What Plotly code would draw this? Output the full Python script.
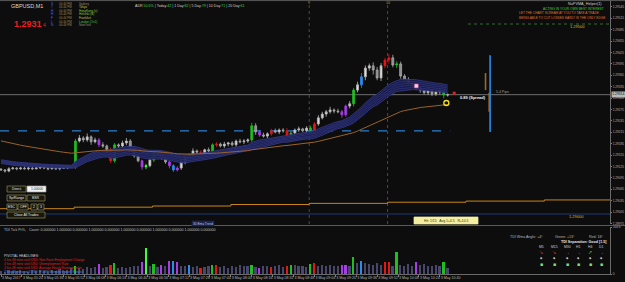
import plotly.graph_objects as go

W, H = 625, 282
BASE = 1.29000
PT = 0.00001
BAR_MIN = 3  # minutes per drawn bar, first bar opens 05:04

# ---------------- data (points of 0.00001 above 1.29000) ----------------
close_pts = [116, 113, 119, 121, 119, 121, 119, 121, 119, 121,
             124, 121, 119, 121, 119, 121, 121, 124, 124, 192,
             200, 195, 203, 190, 195, 182, 179, 169, 140, 182,
             179, 187, 192, 174, 153, 140, 124, 127, 142, 161,
             158, 148, 137, 127, 116, 121, 137, 150, 155, 166,
             163, 161, 169, 166, 182, 184, 179, 184, 187, 182,
             192, 190, 192, 195, 232, 216, 208, 205, 211, 219,
             216, 221, 219, 203, 213, 221, 224, 219, 226, 213,
             237, 253, 263, 269, 274, 271, 269, 261, 284, 290,
             326, 340, 361, 384, 390, 379, 358, 390, 405, 411,
             392, 395, 363, 353, 345, 342, 332, 326, 319, 324,
             316, 321, 326, 313, 314]
open_first_pts = 118
hi_wick = [3, 2, 4, 3, 2, 3, 4, 2, 3, 3,
           2, 4, 3, 2, 3, 2, 3, 4, 3, 6,
           8, 5, 9, 4, 6, 5, 7, 4, 6, 5,
           4, 6, 8, 5, 4, 6, 3, 5, 7, 4,
           5, 4, 6, 3, 4, 5, 6, 4, 5, 7,
           4, 5, 3, 6, 4, 5, 4, 6, 3, 5,
           4, 6, 5, 4, 8, 7, 5, 6, 4, 5,
           6, 4, 5, 7, 5, 4, 6, 3, 5, 6,
           5, 7, 6, 5, 8, 4, 6, 5, 4, 7,
           6, 8, 10, 7, 6, 9, 8, 7, 6, 10,
           8, 7, 6, 5, 7, 6, 8, 5, 6, 12,
           5, 7, 9, 4, 3]
lo_wick = [2, 4, 3, 2, 4, 3, 2, 4, 3, 2,
           3, 3, 4, 2, 3, 4, 2, 3, 2, 5,
           4, 6, 5, 8, 4, 6, 5, 9, 6, 5,
           5, 4, 6, 7, 5, 4, 8, 6, 4, 5,
           4, 6, 5, 7, 5, 4, 5, 6, 4, 5,
           6, 4, 5, 4, 6, 5, 4, 5, 6, 4,
           5, 4, 6, 5, 6, 8, 5, 4, 6, 5,
           4, 6, 5, 8, 4, 6, 5, 4, 6, 5,
           6, 5, 4, 7, 5, 6, 4, 8, 5, 6,
           7, 6, 8, 9, 7, 12, 6, 8, 7, 9,
           6, 8, 7, 6, 5, 8, 6, 7, 5, 6,
           6, 5, 7, 9, 4]
volume = [12, 8, 15, 10, 9, 14, 11, 8, 13, 10,
          16, 9, 12, 14, 10, 18, 12, 15, 20, 30,
          22, 18, 25, 20, 26, 36, 20, 24, 34, 40,
          22, 26, 20, 25, 28, 30, 44, 92, 30, 36,
          26, 33, 28, 48, 46, 44, 30, 28, 33, 26,
          30, 22, 25, 28, 33, 33, 24, 28, 22, 30,
          26, 32, 28, 30, 33, 26, 22, 28, 30, 24,
          28, 32, 26, 30, 33, 34, 28, 30, 26, 37,
          40, 30, 34, 28, 32, 30, 28, 33, 33, 30,
          60, 38, 48, 40, 36, 32, 38, 34, 44, 42,
          30, 80, 34, 30, 36, 28, 44, 32, 36, 30,
          28, 34, 30, 44, 20]
flag_idx = [19, 25, 28, 29, 36, 37, 39, 41, 43, 44, 45, 48, 51, 54, 55, 64,
            66, 69, 73, 74, 79, 80, 87, 88, 90, 92, 98, 99, 101, 106, 113]
flag_kind = ["green", "purple", "red", "green", "purple", "lime", "green", "purple",
             "purple", "blue", "purple", "blue", "red", "green", "red", "green",
             "purple", "red", "red", "green", "green", "red", "purple", "purple",
             "green", "blue", "red", "red", "green", "purple", "green"]

time_labels = ["3 May 2017", "3 May 05:20", "3 May 05:36", "3 May 05:52", "3 May 06:08",
               "3 May 06:24", "3 May 06:40", "3 May 06:56", "3 May 07:12", "3 May 07:28",
               "3 May 07:44", "3 May 08:00", "3 May 08:16", "3 May 08:32", "3 May 08:48",
               "3 May 09:04", "3 May 09:20", "3 May 09:36", "3 May 09:52", "3 May 10:08",
               "3 May 10:24", "3 May 10:40"]
time_label_min = [16 * k for k in range(len(time_labels))]

ribbon_seed_pts = 140
atr_seed_pts = 10
brown_seed_pts = 195
dashed_level = 1.29219
round_hi = 1.29500
round_lo = 1.29000
htf_t = [-10, 56, 116, 176, 236, 296, 356, 416, 476]
htf_pts = [14, 18, 21, 25, 28, 31, 34, 37, 37]
hour_t = [236, 296]
hour_txt = ["9", "10"]
seg_t = [374.5, 371, 373.8]
seg_top_pts = [418, 371, 319]
seg_bot_pts = [216, 326, 269]
seg_kind = ["blue", "brown", "brown"]
sig_t = [318, 341, 347]
sig_pts = [337, 292, 318]
sig_kind = ["white", "yellow", "red"]
vol_max = 168.8

# ---------------- styles ----------------
FONT = "Liberation Sans"
BG = "#0d0d0d"
KIND_COL = {"green": "#1fbf1f", "lime": "#3cff3c", "red": "#e01818",
            "purple": "#a63ee6", "blue": "#2a8cf0", "brown": "#9a6a2a"}
VOL_GRAY = "#48466a"
PX_PER_MIN = 1.306
RIGHT_PX = 610
X0_MIN = -1 / PX_PER_MIN
X1_MIN = (RIGHT_PX - 1) / PX_PER_MIN
Y_TOP = round_hi + 24 / 38000
Y_BOT = round_hi - 200 / 38000

# ---------------- derived series ----------------
n = len(close_pts)
t = [BAR_MIN * i for i in range(n)]
close = [BASE + c * PT for c in close_pts]
opn = [BASE + open_first_pts * PT] + close[:-1]
high = [max(o, c) + w * PT for o, c, w in zip(opn, close, hi_wick)]
low = [min(o, c) - w * PT for o, c, w in zip(opn, close, lo_wick)]


def ema(vals, period, seed):
    a = 2.0 / (period + 1)
    e = seed
    out = []
    for v in vals:
        e = e + a * (v - e)
        out.append(e)
    return out


center = ema(close, 22, BASE + ribbon_seed_pts * PT)
tr = []
prev = opn[0]
for h_, l_, c_ in zip(high, low, close):
    tr.append(max(h_, prev) - min(l_, prev))
    prev = c_
atr = ema(tr, 14, atr_seed_pts * PT)
brown = ema(close, 60, BASE + brown_seed_pts * PT)

fig = go.Figure()

# ribbon
offs = [-0.5, 0.5, -0.3, -0.1, 0.1, 0.3]
for j, k in enumerate(offs):
    fig.add_trace(go.Scatter(
        x=t, y=[c + k * a for c, a in zip(center, atr)], mode="lines",
        line=dict(color="#3a4196" if j < 2 else "#30367e", width=0.7),
        fill="tonexty" if j == 1 else None,
        fillcolor="rgba(26,29,80,0.92)",
        hoverinfo="skip", showlegend=False, xaxis="x", yaxis="y"))

# brown MA
fig.add_trace(go.Scatter(x=t, y=brown, mode="lines", line=dict(color="#9a6228", width=1),
                         hoverinfo="skip", showlegend=False, xaxis="x", yaxis="y"))
# HTF orange stepped MA
fig.add_trace(go.Scatter(x=htf_t, y=[BASE + p * PT for p in htf_pts], mode="lines",
                         line=dict(color="#c8861a", width=1, shape="hv"),
                         hoverinfo="skip", showlegend=False, xaxis="x", yaxis="y"))

# candles
flag_map = dict(zip(flag_idx, flag_kind))
normal = [i for i in range(n) if i not in flag_map]


def candle(idx, fill_up, line_up, fill_dn, line_dn):
    return go.Candlestick(
        x=[t[i] for i in idx], open=[opn[i] for i in idx], high=[high[i] for i in idx],
        low=[low[i] for i in idx], close=[close[i] for i in idx],
        increasing=dict(line=dict(color=line_up, width=0.8), fillcolor=fill_up),
        decreasing=dict(line=dict(color=line_dn, width=0.8), fillcolor=fill_dn),
        whiskerwidth=0, hoverinfo="skip", showlegend=False, xaxis="x", yaxis="y")


fig.add_trace(candle(normal, "#e4e4e4", "#b8b8b8", "#8a8a8a", "#a8a8a8"))
for kind in ["green", "lime", "red", "purple", "blue"]:
    idx = [i for i in flag_idx if flag_map[i] == kind]
    if idx:
        col = KIND_COL[kind]
        fig.add_trace(candle(idx, col, col, col, col))

# signal markers
SIG_STYLE = {"white": dict(symbol="square", color="#f0d8e8", size=4, line=dict(color="#c04080", width=0.6)),
             "yellow": dict(symbol="circle-open", color="#f0e020", size=5, line=dict(width=1.4)),
             "red": dict(symbol="square", color="#e02020", size=3)}
for tt, pp, kk in zip(sig_t, sig_pts, sig_kind):
    fig.add_trace(go.Scatter(x=[tt], y=[BASE + pp * PT], mode="markers", marker=SIG_STYLE[kk],
                             hoverinfo="skip", showlegend=False, xaxis="x", yaxis="y"))

# volume
vcols = [KIND_COL[flag_map[i]] if i in flag_map else VOL_GRAY for i in range(n)]
fig.add_trace(go.Bar(x=t, y=volume, marker=dict(color=vcols, line=dict(width=0)), width=1.3,
                     hoverinfo="skip", showlegend=False, xaxis="x2", yaxis="y2"))

# ---------------- shapes ----------------
shapes = []


def hline_data(y, x0, x1, color, dash="solid", width=1, xref="x"):
    shapes.append(dict(type="line", xref=xref, yref="y", x0=x0, x1=x1, y0=y, y1=y,
                       line=dict(color=color, width=width, dash=dash), layer="below"))


PW = RIGHT_PX / W
hline_data(close[-1], 0, PW, "#6e6e6e", xref="paper")
hline_data(dashed_level, X0_MIN, 344, "#2a7fd0", dash="dash", width=1.2)
hline_data(round_hi, 468 / W, PW, "#2e6e2e", dash="dot", xref="paper")
hline_data(round_lo, 0, PW, "#1e3a78", width=1.2, xref="paper")
for ht in hour_t:
    shapes.append(dict(type="line", xref="x", yref="paper", x0=ht, x1=ht, y0=1 - 224 / H,
                       y1=1 - 4 / H, line=dict(color="#4a4a4a", width=1, dash="dot"), layer="below"))
for st, top, bot, kk in zip(seg_t, seg_top_pts, seg_bot_pts, seg_kind):
    shapes.append(dict(type="line", xref="x", yref="y", x0=st, x1=st, y0=BASE + bot * PT,
                       y1=BASE + top * PT, line=dict(color=KIND_COL[kk], width=1.6)))


def rect_px(x0, y0, x1, y1, fill, line, lw=0.7):
    shapes.append(dict(type="rect", xref="paper", yref="paper", x0=x0 / W, x1=x1 / W,
                       y0=1 - y1 / H, y1=1 - y0 / H, fillcolor=fill, line=dict(color=line, width=lw)))


def line_px(x0, y0, x1, y1, color, w=1):
    shapes.append(dict(type="line", xref="paper", yref="paper", x0=x0 / W, x1=x1 / W,
                       y0=1 - y0 / H, y1=1 - y1 / H, line=dict(color=color, width=w)))


line_px(0, 0.6, 625, 0.6, "#5a5a5a")
line_px(0, 225.5, 625, 225.5, "#5a5a5a")

# buttons
btns = [(7, 186, 26, 192, "Direct."), (7, 195, 26, 201, "Sp/Range"), (27, 195, 45, 201, "BSR"),
        (7, 204, 17, 210, "ESC"), (18, 204, 28, 210, "OFF"), (31, 204, 37, 210, "2"),
        (38, 204, 44, 210, "3"), (7, 212, 45, 218, "Close All Trades")]
for b in btns:
    rect_px(b[0], b[1], b[2], b[3], "#17170f", "#8c8656")
rect_px(27, 186, 46, 192, "#f4f4f4", "#9a9a9a")
rect_px(192, 221, 214, 226, "#1a2550", "#1a2550")
rect_px(414, 217, 478, 224, "#f4eea0", "#f4eea0")

# ---------------- annotations ----------------
anns = []


def txt(x, y, s, size=4, color="#c8c8c8", xa="left", bold=False, bg=None):
    if bold:
        s = "<b>" + s + "</b>"
    d = dict(xref="paper", yref="paper", x=x / W, y=1 - y / H, text=s, showarrow=False,
             xanchor=xa, yanchor="middle", font=dict(family=FONT, size=size, color=color))
    if bg:
        d["bgcolor"] = bg
    anns.append(d)


txt(9, 6, "GBPUSD,M1", 5.5, "#d8d8d8")
txt(12, 24, "1.2931", 9, "#e82020", bold=True)
txt(41, 25, "4", 5, "#e82020")
sess = [("Sydney", "#8c8c8c"), ("Tokyo", "#c8c83c"), ("HongKong (x)", "#8cc83c"),
        ("Helsinki (B)", "#8cc83c"), ("Frankfurt", "#c8c83c"), ("London (Ox1)", "#40c840"),
        ("NewYork", "#8c8c8c")]
for k, (nm, cl) in enumerate(sess):
    yy = 3.6 + k * 3.6
    txt(49, yy, nm[0], 3.2, "#4a6ae0")
    txt(57, yy, "04:44 PM", 3.0, "#8a8a5a")
    txt(77, yy, nm, 3.0, cl)
txt(133, 6, "ADR <span style='color:#40d040'>50.6%</span> | Today:<span style='color:#40d040'>42</span> | "
            "1 Day:<span style='color:#40d040'>82</span> | 5 Day:<span style='color:#40d040'>79</span> | "
            "10 Day:<span style='color:#40d040'>71</span> | 20 Day:<span style='color:#40d040'>61</span>",
    3.6, "#d0d0d0")
txt(604, 3.5, "NuPVMA_Helper(1)", 3.8, "#d0d0d0", xa="right")
txt(606, 8.5, "ACTING IN YOUR OWN BEST INTEREST", 3.2, "#3cd03c", xa="right")
txt(601, 13.5, "LET THE CHART SCREAM AT YOU TO TAKE A TRADE", 3.2, "#e0702c", xa="right")
txt(607, 18.5, "BEING ABLE TO CUT LOSSES EARLY IS THE ONLY EDGE", 3.2, "#e0702c", xa="right")
txt(568, 27, "1.29500", 4, "#e8b020")
txt(567, 217, "1.29000", 4, "#e8b020")
for ht, hs in zip(hour_t, hour_txt):
    anns.append(dict(xref="x", yref="paper", x=ht, y=1 - 3 / H, text=hs, showarrow=False,
                     xanchor="center", yanchor="middle", font=dict(family=FONT, size=3.6, color="#a8a840")))
txt(458, 97, "0.89 (Spread)", 4, "#f0f0f0", bold=True)
txt(494, 92, "5.4 Pips", 3.5, "#a0a0a0")
# current price label on axis
anns.append(dict(xref="paper", yref="y", x=(RIGHT_PX + 0.5) / W, y=close[-1], text="1.29314",
                 showarrow=False, xanchor="left", yanchor="middle", bgcolor="#b8b8b8", borderpad=0.3,
                 font=dict(family=FONT, size=3.3, color="#101010")))
# buttons text
for b in btns:
    txt((b[0] + b[2]) / 2, (b[1] + b[3]) / 2, b[4], 3.4, "#e8e8e8", xa="center")
txt(36.5, 189, "1.00000", 3.4, "#202020", xa="center")
txt(203, 223.5, "30 Ema Trend", 3.2, "#b8c0e8", xa="center")
txt(446, 220.5, "Hit: 1/15   Avg 1+4.5   R+10.5", 3.4, "#303010", xa="center")
# volume panel text
txt(2, 229.5, "TDI Tick Pr%,   Count: 0.000000 1.000000 0.000000 1.000000 0.000000 1.000000 "
              "0.000000 1.000000 0.000000 1.000000 0.000000", 3.6, "#c0c0c0")
txt(2, 256, "PIVOTAL HEADLINES:", 3.4, "#d0d0d0")
txt(2, 260, "4 hrs 48 mins until USD: Non-Farm Employment Change", 3.2, "#e02020")
txt(2, 264, "4 hrs 48 mins until USD: Unemployment Rate", 3.2, "#e02020")
txt(2, 268, "4 hrs 48 mins until USD: Average Hourly Earnings m/m", 3.2, "#e02020")
txt(2, 272, "7 hrs 48 mins until USD: FOMC Member Powell Speaks", 3.2, "#4a8ae8")
txt(508, 237, "TDI Wma Angle: +4°", 3.6, "#b8b8b8")
txt(553, 237, "Green: +13°", 3.6, "#b8b8b8")
txt(587, 237, "Red: 18°", 3.6, "#b8b8b8")
txt(608, 242, "TDI Separation: Good [1.5]", 3.6, "#e8e8e8", xa="right", bold=True)
tfs = ["M5", "M15", "M30", "H1", "H4", "D1"]
tf_x = [541, 554, 567, 578, 590, 601]
arr = [("↘", "#e02020"), ("↘", "#e02020"), ("→", "#d8d8d8"), ("→", "#d8d8d8"),
       ("↗", "#30d030"), ("→", "#d8d8d8")]
for tf, xx, (a, ac) in zip(tfs, tf_x, arr):
    txt(xx, 247, tf, 3.4, "#d0d0d0", xa="center")
    txt(xx, 252, a, 4.6, ac, xa="center")
    txt(xx, 257.5, "◆", 3.2, "#c8c8c8", xa="center")
    txt(xx, 264, "■", 5, "#80e080", xa="center")

fig.update_layout(
    width=W, height=H, margin=dict(l=0, r=0, t=0, b=0, autoexpand=False),
    paper_bgcolor=BG, plot_bgcolor=BG, showlegend=False,
    shapes=shapes, annotations=anns, bargap=0,
    xaxis=dict(domain=[0, PW], range=[X0_MIN, X1_MIN], anchor="y", showgrid=False, automargin=False,
               zeroline=False, showticklabels=False, rangeslider=dict(visible=False), fixedrange=True),
    yaxis=dict(domain=[1 - 224 / H, 1], range=[Y_BOT, Y_TOP], side="right", anchor="x",
               automargin=False,
               tickmode="linear", tick0=1.28975, dtick=0.0003, tickformat=".5f",
               tickfont=dict(family=FONT, size=3.2, color="#b4b4b4"), ticks="outside", ticklen=1,
               tickcolor="#7a7a7a", showgrid=False, zeroline=False, showline=True,
               linecolor="#6a6a6a", linewidth=1),
    xaxis2=dict(domain=[0, PW], range=[X0_MIN, X1_MIN], anchor="y2", matches="x", showgrid=False,
                automargin=False, tickangle=0,
                zeroline=False, tickmode="array", tickvals=time_label_min, ticktext=time_labels,
                ticklabelposition="outside right", ticks="outside", ticklen=2, tickcolor="#7a7a7a",
                tickfont=dict(family=FONT, size=3.6, color="#b4b4b4"), showline=True,
                linecolor="#6a6a6a", linewidth=1),
    yaxis2=dict(domain=[8 / H, 1 - 227 / H], range=[0, vol_max], side="right", anchor="x2",
                automargin=False,
                tickmode="array", tickvals=[0, vol_max], ticktext=["0", "168.8"],
                tickfont=dict(family=FONT, size=3.2, color="#b4b4b4"), ticks="outside", ticklen=1,
                tickcolor="#7a7a7a", showgrid=False, zeroline=False, showline=True,
                linecolor="#6a6a6a", linewidth=1),
)

fig.write_html("out.html")
